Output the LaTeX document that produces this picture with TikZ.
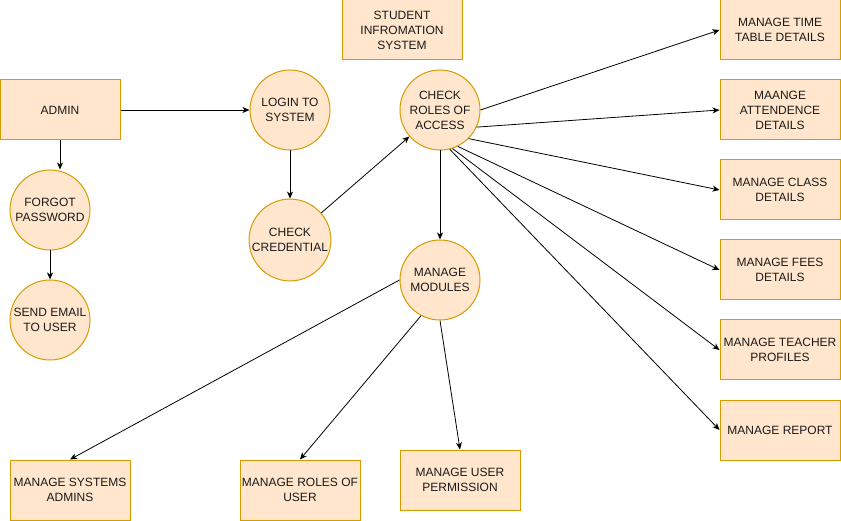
\documentclass[tikz,border=0pt]{standalone}
\usepackage{fontspec}
\setmainfont{Liberation Sans}
\usetikzlibrary{arrows.meta}
\definecolor{boxfill}{HTML}{FFE6CC}
\definecolor{boxline}{HTML}{D79B00}
\definecolor{ink}{HTML}{1A1A1A}
\begin{document}
\begin{tikzpicture}[x=1pt,y=-1pt,>={Stealth[length=7pt,width=6pt,inset=2pt]},
  every node/.style={font=\fontsize{12}{15}\selectfont,text=ink,align=center,inner sep=1pt},
  proc/.style={draw=boxline,fill=boxfill,line width=1pt,rectangle,minimum width=120pt,minimum height=60pt},
  task/.style={draw=boxline,fill=boxfill,line width=1pt,circle,minimum size=80pt},
  flow/.style={->,line width=0.8pt,black}]
\useasboundingbox (0,0) rectangle (841,521);
\node[proc] (admin) at (60,110) {ADMIN};
\node[task] (forgot) at (50,210) {FORGOT\\PASSWORD};
\node[task] (mail) at (50,320) {SEND EMAIL\\TO USER};
\node[task] (login) at (290,110) {LOGIN TO\\SYSTEM};
\node[task] (cred) at (290,240) {CHECK\\CREDENTIAL};
\node[proc] (sis) at (402,30) {STUDENT\\INFROMATION\\SYSTEM};
\node[task] (roles) at (440,110) {CHECK\\ROLES OF\\ACCESS};
\node[task] (modules) at (440,280) {MANAGE\\MODULES};
\node[proc] (timetable) at (780,30) {MANAGE TIME\\TABLE DETAILS};
\node[proc] (attend) at (780,110) {MAANGE\\ATTENDENCE\\DETAILS};
\node[proc] (class) at (780,190) {MANAGE CLASS\\DETAILS};
\node[proc] (fees) at (780,270) {MANAGE FEES\\DETAILS};
\node[proc] (teacher) at (780,350) {MANAGE TEACHER\\PROFILES};
\node[proc] (report) at (780,430) {MANAGE REPORT};
\node[proc] (sysadm) at (70,490) {MANAGE SYSTEMS\\ADMINS};
\node[proc] (roleuser) at (300,490) {MANAGE ROLES OF\\USER};
\node[proc] (perm) at (460,480) {MANAGE USER\\PERMISSION};
\draw[flow] (admin) -- (login);
\draw[flow] (admin.south) -- (admin.south |- forgot.north);
\draw[flow] (forgot) -- (mail);
\draw[flow] (login) -- (cred);
\draw[flow] (cred) -- (roles);
\draw[flow] (roles.east) -- (timetable.west);
\draw[flow] (roles.-25) -- (attend.west);
\draw[flow] (roles.-45) -- (class.west);
\draw[flow] (roles.-64) -- (fees.west);
\draw[flow] (roles.-72) -- (teacher.west);
\draw[flow] (roles.-76) -- (report.west);
\draw[flow] (roles) -- (modules);
\draw[flow] (modules.west) -- (sysadm.north);
\draw[flow] (modules.-118) -- (roleuser.north);
\draw[flow] (modules.south) -- (perm.north);
\end{tikzpicture}
\end{document}
